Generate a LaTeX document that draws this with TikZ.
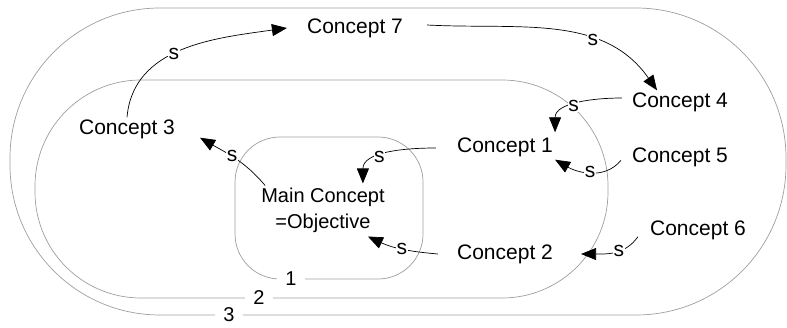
\documentclass[tikz,border=0pt]{standalone}
\usepackage{fontspec}
\setmainfont{Liberation Sans}
\usetikzlibrary{arrows.meta,positioning}

\tikzset{
	ring/.style={draw=black!38, line width=0.7pt, rounded corners=#1},
	ringno/.style={fill=white, inner xsep=8pt, inner ysep=1pt, font=\fontsize{20}{22}\selectfont},
	concept/.style={inner sep=2pt, font=\fontsize{21}{24}\selectfont},
	link/.style={line width=0.7pt, -{Triangle[length=15pt,width=12pt]}},
	sgn/.style={fill=white, inner sep=0.5pt, font=\fontsize{21}{24}\selectfont},
}

\begin{document}
\begin{tikzpicture}[x=1pt,y=1pt]
			\useasboundingbox (0,0) rectangle (787,327);
			%% rings
			\draw[ring=150pt] (10,12) rectangle (786,319);
			\draw[ring=106pt] (35,29) rectangle (608,247);
			\draw[ring=45pt] (235,48) rectangle (423,190);
			\node[ringno] (r3) at (229,12) {3};
			\node[ringno] (r2) at (259,29) {2};
			\node[ringno] (r1) at (291,48) {1};
			%% concepts
			\node[concept, align=center, font=\fontsize{20}{26}\selectfont] (main) at (323,117) {Main Concept\\=Objective};
			\node[concept] (c1) at (505,180) {Concept 1};
			\node[concept] (c2) at (505,73) {Concept 2};
			\node[concept] (c3) at (127,198) {Concept 3};
			\node[concept] (c4) at (680,225) {Concept 4};
			\node[concept, below=32pt of c4] (c5) {Concept 5};
			\node[concept] (c6) at (698,97) {Concept 6};
			\node[concept] (c7) at (355,299) {Concept 7};
			% links between the concepts
			\draw[link] (c3.north) to[out=85,in=188] node[sgn,pos=0.45]{s} ([xshift=-18pt]c7.west);
			\draw[link] ([xshift=22pt,yshift=3pt]c7.east) to[out=-3,in=125] node[sgn,pos=0.66]{s} ([xshift=-23pt]c4.north);
			\draw[link] ([xshift=-8pt,yshift=4pt]c4.west) to[out=180,in=90] node[sgn,pos=0.55]{s} ([yshift=3pt]c1.north east);
			\draw[link] ([xshift=-9pt,yshift=-3pt]c5.west) to[out=-130,in=-30] node[sgn,pos=0.5]{s} ([yshift=-1pt]c1.south east);
			\draw[link] ([xshift=-19pt,yshift=-1pt]c1.west) to[out=180,in=90] node[sgn,pos=0.6]{s} ([xshift=-24pt,yshift=2pt]main.north east);
			\draw[link] ([xshift=6pt]main.north west) to[out=130,in=-30] node[sgn,pos=0.55]{s} ([xshift=23pt,yshift=3pt]c3.south east);
			\draw[link] ([xshift=-17pt]c2.west) to[out=175,in=-25] node[sgn,pos=0.5]{s} ([xshift=-19pt,yshift=-2pt]main.south east);
			\draw[link] ([xshift=-10pt,yshift=5pt]c6.south west) to[out=-125,in=0] node[sgn,pos=0.4]{s} ([xshift=26pt]c2.east);
		\end{tikzpicture}
\end{document}
